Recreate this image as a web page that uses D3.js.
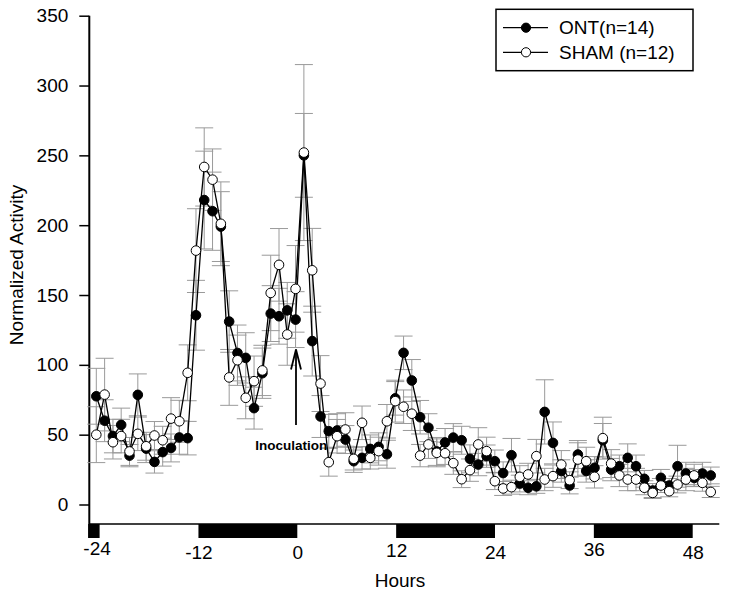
<!DOCTYPE html>
<html><head><meta charset="utf-8">
<script src="https://cdn.jsdelivr.net/npm/d3@7"></script>
<style>body{margin:0;background:#fff}svg{display:block;font-family:"Liberation Sans",Arial,Helvetica,sans-serif}</style>
</head><body><svg id="c" width="729" height="597"></svg>
<script>
const hours = [-24.40,-23.39,-22.38,-21.38,-20.37,-19.36,-18.35,-17.34,-16.34,-15.33,-14.32,-13.31,-12.30,-11.30,-10.29,-9.28,-8.27,-7.26,-6.26,-5.25,-4.24,-3.23,-2.22,-1.22,-0.21,0.80,1.81,2.82,3.82,4.83,5.84,6.85,7.86,8.86,9.87,10.88,11.89,12.90,13.90,14.91,15.92,16.93,17.94,18.94,19.95,20.96,21.97,22.98,23.98,24.99,26.00,27.01,28.02,29.02,30.03,31.04,32.05,33.06,34.06,35.07,36.08,37.09,38.10,39.10,40.11,41.12,42.13,43.14,44.14,45.15,46.16,47.17,48.18,49.18,50.19];
const ontValues = [77.5,60,49,57,35,78.5,40,30.5,37.5,40.5,48,47.5,135.5,218,210,199,131,108.5,105,69,94,136.7,134.8,139,132.4,250,117,63,52.5,53,46.5,31,33.4,39.8,41.3,36,76,108.6,88.8,62.5,55,38,44.4,47.9,46,32.7,28.6,34.6,31,22.5,35.3,15,12,13,66.3,44.1,24,13.6,35.8,24,26.3,46,25,27.4,33.4,27.4,18.4,10,19.1,13.6,27.4,22.2,19,22.2,20.8];
const ontErr = [20,15,12,12,8,15,10,8,10,10,12,12,25,35,28,25,22,20,18,15,18,20,20,20,20,30,25,15,12,12,10,8,8,10,10,10,12,12,15,12,10,10,10,10,10,10,8,8,8,8,12,6,5,5,23,15,8,6,10,8,8,12,8,8,10,8,6,5,6,5,15,8,6,8,6];
const shamValues = [50,78.7,44.6,49,38,50.6,41.7,49.4,46,61.5,59.6,94.3,181.8,241.7,232.6,201,91,103.3,76.4,88.3,96,151.5,171.6,121.7,154.4,252,167.7,86.6,30.3,48.9,53.7,32.7,58.5,33.4,38.2,59.6,74,70,65,35,43,37,36.7,29.6,18.1,24.6,43,38.2,16.7,11.5,12.4,19.8,21.5,34.6,17.9,20.3,28.6,17.4,32.2,31,19.8,47.5,29.3,20.8,17.9,17.9,12,8.3,13.6,9.5,14.3,17.9,20.8,15.5,9];
const shamErr = [20,26,12,12,10,12,10,10,10,15,15,20,30,28,22,30,20,18,15,18,18,27,26,22,31,63,30,20,10,12,12,8,12,8,10,12,15,12,12,8,10,10,8,8,6,8,12,10,6,5,5,8,8,12,8,8,10,6,12,10,8,15,10,8,8,8,5,4,5,4,6,8,8,6,4];
const yTicks = [0,50,100,150,200,250,300,350];
const xTickLabels = [-24,-12,0,12,24,36,48];
const darkStarts = [-25.4,-12,12,36];
const darkEnds = [-24,0,24,48];
const seriesNames = ["ONT(n=14)","SHAM (n=12)"];
const seriesFills = ["#000","#fff"];
const inoculationHour = 0;
const arrowFrom = 57, arrowTo = 111, labelValue = 39;

const svg = d3.select("#c");
const x = d3.scaleLinear().domain([-24,48]).range([99.6,692.7]);
const y = d3.scaleLinear().domain([0,350]).range([504.5,15.7]);
const axisX = 89.3, axisY = 524;
const labelShift = {"-24":-4, "12":-2, "36":-3};

// Y axis
const gy = svg.append("g").attr("transform",`translate(${axisX},0)`)
  .call(d3.axisLeft(y).tickValues(yTicks).tickSize(10).tickSizeOuter(0).tickPadding(11));
gy.select(".domain").remove();
gy.selectAll(".tick line").attr("stroke","#000").attr("stroke-width",1.5);
gy.selectAll(".tick text").attr("font-size",19).attr("fill","#000").attr("font-family","Liberation Sans, Arial, sans-serif");
svg.append("line").attr("x1",axisX).attr("x2",axisX).attr("y1",y(350)).attr("y2",axisY)
  .attr("stroke","#000").attr("stroke-width",2);

// X axis line + dark bars
svg.append("line").attr("x1",axisX).attr("x2",719.3).attr("y1",axisY).attr("y2",axisY)
  .attr("stroke","#000").attr("stroke-width",1.5);
svg.append("g").selectAll("rect").data(darkStarts).join("rect")
  .attr("x",(d)=>x(d)).attr("width",(d,i)=>x(darkEnds[i])-x(d))
  .attr("y",axisY).attr("height",14).attr("fill","#000");
const gx = svg.append("g").attr("transform",`translate(0,${axisY})`)
  .call(d3.axisBottom(x).tickValues(xTickLabels).tickSize(0).tickPadding(21.5).tickFormat(d=>String(d)));
gx.select(".domain").remove();
gx.selectAll(".tick text").attr("font-size",19).attr("fill","#000").attr("font-family","Liberation Sans, Arial, sans-serif")
  .attr("transform",d=>`translate(${d===-24?-3:0},${labelShift[String(d)]||0})`);

// Axis titles
svg.append("text").attr("x",400).attr("y",587).attr("text-anchor","middle").attr("font-size",19).text("Hours");
svg.append("text").attr("transform","translate(23,265) rotate(-90)").attr("text-anchor","middle").attr("font-size",19).text("Normalized Activity");

// Series
const series = [
  {vals: ontValues, err: ontErr, fill: seriesFills[0]},
  {vals: shamValues, err: shamErr, fill: seriesFills[1]}
];
const cap = 9;
const eg = svg.append("g").attr("stroke","#9a9a9a").attr("stroke-width",1);
series.forEach(s=>{
  hours.forEach((h,i)=>{
    const cx = x(h), lo = y(s.vals[i]-s.err[i]), hi = y(s.vals[i]+s.err[i]);
    eg.append("line").attr("x1",cx).attr("x2",cx).attr("y1",lo).attr("y2",hi);
    eg.append("line").attr("x1",cx-cap).attr("x2",cx+cap).attr("y1",lo).attr("y2",lo);
    eg.append("line").attr("x1",cx-cap).attr("x2",cx+cap).attr("y1",hi).attr("y2",hi);
  });
});
const line = d3.line().x((d,i)=>x(hours[i])).y(d=>y(d));
series.forEach(s=>{
  svg.append("path").attr("d",line(s.vals)).attr("fill","none").attr("stroke","#000").attr("stroke-width",1.3);
});
series.forEach(s=>{
  svg.append("g").selectAll("circle").data(s.vals).join("circle")
    .attr("cx",(d,i)=>x(hours[i])).attr("cy",d=>y(d)).attr("r",4.8)
    .attr("fill",s.fill).attr("stroke","#000").attr("stroke-width",1);
});

// Inoculation annotation
const ax = x(inoculationHour)-1.3;
svg.append("line").attr("x1",ax).attr("x2",ax).attr("y1",y(arrowFrom)).attr("y2",y(arrowTo))
  .attr("stroke","#000").attr("stroke-width",1.8);
svg.append("path").attr("d",`M${ax-5},${y(arrowTo)+20}L${ax},${y(arrowTo)}L${ax+5},${y(arrowTo)+20}`)
  .attr("fill","none").attr("stroke","#000").attr("stroke-width",1.8);
svg.append("text").attr("x",x(inoculationHour)+30).attr("y",y(labelValue)).attr("text-anchor","end")
  .attr("font-size",13.5).attr("font-weight","bold").text("Inoculation");

// Legend
const lg = svg.append("g");
lg.append("rect").attr("x",496).attr("y",9.3).attr("width",197).attr("height",61.4)
  .attr("fill","#fff").attr("stroke","#000").attr("stroke-width",1.5);
seriesNames.forEach((n,i)=>{
  const ly = 27.7 + i*24.6;
  lg.append("line").attr("x1",503).attr("x2",548).attr("y1",ly).attr("y2",ly).attr("stroke","#000").attr("stroke-width",1.2);
  lg.append("circle").attr("cx",526).attr("cy",ly).attr("r",4.6).attr("fill",seriesFills[i]).attr("stroke","#000").attr("stroke-width",1);
  lg.append("text").attr("x",559).attr("y",ly+6.6).attr("font-size",19).text(n);
});
</script></body></html>
